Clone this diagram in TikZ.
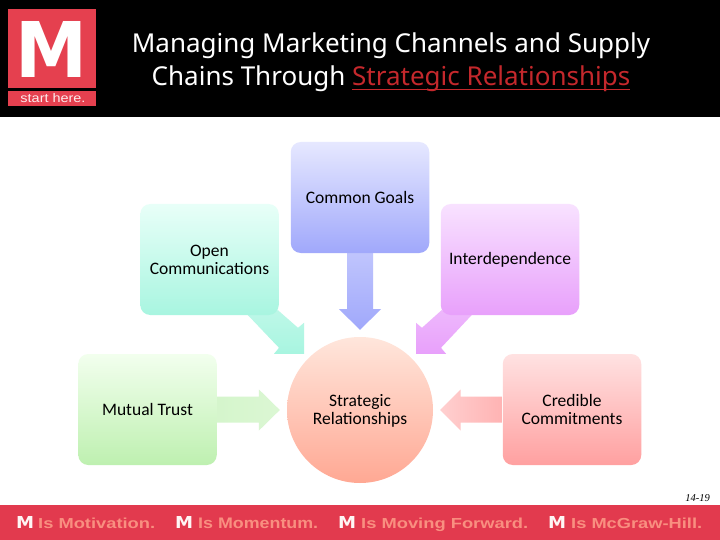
\documentclass[tikz,border=0pt]{standalone}
\usepackage{fontspec}
\usepackage{graphicx}
\setmainfont{Carlito}
\newfontfamily\titlefont{Noto Sans}
\newfontfamily\bandfont{Liberation Sans}
\newfontfamily\heavyfont{DejaVu Sans}
\newfontfamily\numfont{Liberation Serif}
\usetikzlibrary{calc,backgrounds}
\definecolor{bandred}{HTML}{E23A4E}
\definecolor{logored}{HTML}{E5404F}
\definecolor{salmon}{HTML}{F98F80}
\definecolor{titlered}{HTML}{C4282C}
\tikzset{
  x=1pt,y=-1pt,
  box/.style={rectangle,rounded corners=10pt,minimum width=138.5pt,minimum height=111pt,align=center,
    inner sep=0pt,font=\fontsize{17.5}{18}\selectfont,text=black},
  hub/.style={circle,minimum size=146pt,inner sep=0pt,align=center,top color=hubtop,bottom color=hubbot,
    font=\fontsize{17.5}{18}\selectfont},
  blockarrow/.style={draw=none},
  bandM/.style={anchor=base west,inner sep=0pt,text=white!92!salmon},
  bandT/.style={anchor=base west,inner sep=0pt,text=salmon},
}
\definecolor{hubtop}{HTML}{FFE6DC}\definecolor{hubbot}{HTML}{FFA893}
\definecolor{bluetop}{HTML}{E6E8FF}\definecolor{bluebot}{HTML}{A0A8FB}
\definecolor{greentop}{HTML}{E8FFF8}\definecolor{greenbot}{HTML}{A8F5E0}
\definecolor{purtop}{HTML}{F8E2FF}\definecolor{purbot}{HTML}{E8A0FB}
\definecolor{mgtop}{HTML}{F2FFEE}\definecolor{mgbot}{HTML}{BEF0B0}
\definecolor{redtop}{HTML}{FFE2E2}\definecolor{redbot}{HTML}{FFA0A0}
\newcommand{\bandtext}[2]{\resizebox{#1pt}{10.5pt}{\bandfont\bfseries #2}}
\newcommand{\bandem}{\resizebox{18pt}{12pt}{\heavyfont\bfseries M}}
\newsavebox{\ulbox}
\newcommand{\myul}[1]{\sbox{\ulbox}{#1}\rlap{\rule[-5pt]{\wd\ulbox}{1.2pt}}\usebox{\ulbox}}
\begin{document}
\begin{tikzpicture}
\useasboundingbox (0,0) rectangle (720,540);
% header
\fill[black] (0,0) rectangle (720,117);
\fill[logored] (8,9) rectangle (96,88);
\fill[logored] (8,91) rectangle (96,106);
\node[inner sep=0pt,text=white] (logoM) at (51.5,49) {\resizebox{72pt}{56pt}{\heavyfont\bfseries M}};
\node[inner sep=0pt,text=white!90!logored] (logoT) at (53,98.5) {\resizebox{65pt}{9pt}{\bandfont start here.}};
\node[text=white,align=center,inner sep=0pt,font=\titlefont\fontsize{26}{33}\selectfont] (title) at (391,62)
  {Managing Marketing Channels and Supply\\Chains Through \textcolor{titlered}{\myul{Strategic Relationships}}};
% nodes
\node[box,top color=bluetop,bottom color=bluebot] (goals) at (360,197.5) {Common Goals};
\node[box,top color=greentop,bottom color=greenbot] (open) at (209.5,259.5) {Open\\Communications};
\node[box,top color=purtop,bottom color=purbot] (inter) at (510,259.5) {\raisebox{-1pt}{Interdependence}};
\node[box,top color=mgtop,bottom color=mgbot] (trust) at (147.5,409.5) {Mutual Trust};
\node[box,top color=redtop,bottom color=redbot] (cred) at (572,409.5) {Credible\\Commitments};
\node[hub] (hub) at (360,410) {\rule{0pt}{14pt}Strategic\\Relationships};
% connectors
\begin{pgfonlayer}{background}
\fill[white] (0,117) rectangle (720,505);
\path[blockarrow,top color=greenbot!75!white,bottom color=greenbot]
  ($(open.south east)+(-31,0)$) -- ($(open.south east)+(-1,-5)$) -- ($(hub.north)+(-62,-9)$) -- ($(hub.north)+(-56,-14)$)
  -- ($(hub.north)+(-56,17)$) -- ($(hub.north)+(-86,17)$) -- ($(hub.north)+(-81,11)$) -- cycle;
\path[blockarrow,top color=purbot!75!white,bottom color=purbot]
  ($(inter.south west)+(31,0)$) -- ($(inter.south west)+(1,-5)$) -- ($(hub.north)+(62,-9)$) -- ($(hub.north)+(56,-14)$)
  -- ($(hub.north)+(56,17)$) -- ($(hub.north)+(86,17)$) -- ($(hub.north)+(81,11)$) -- cycle;
\path[blockarrow,top color=bluetop!45!bluebot,bottom color=bluebot]
  ($(goals.south)+(-13,0)$) -- ($(goals.south)+(13,0)$) -- ($(goals.south)+(13,56)$) -- ($(goals.south)+(21,56)$)
  -- ($(hub.north)+(0,-7)$) -- ($(goals.south)+(-21,56)$) -- ($(goals.south)+(-13,56)$) -- cycle;
\path[blockarrow,left color=mgbot!65!white,right color=mgbot!55!white]
  ($(trust.east)+(0,-13)$) -- ($(trust.east)+(42,-13)$) -- ($(trust.east)+(42,-20)$)
  -- ($(hub.west)+(-7,0)$) -- ($(trust.east)+(42,21)$) -- ($(trust.east)+(42,13)$) -- ($(trust.east)+(0,13)$) -- cycle;
\path[blockarrow,left color=redbot!50!white,right color=redbot!80!white]
  ($(cred.west)+(0,-13)$) -- ($(cred.west)+(-42,-13)$) -- ($(cred.west)+(-42,-20)$)
  -- ($(hub.east)+(7,0)$) -- ($(cred.west)+(-42,21)$) -- ($(cred.west)+(-42,13)$) -- ($(cred.west)+(0,13)$) -- cycle;
\end{pgfonlayer}
% footer
\node[anchor=base east,inner sep=0pt,font=\numfont\itshape\fontsize{10.5}{12}\selectfont] (pg) at (710,501) {14-19};
\fill[bandred] (0,505) rectangle (720,540);
\node[bandM] (m1) at (16,528.5) {\bandem};
\node[bandT] (t1) at (38,528) {\bandtext{117}{Is Motivation.}};
\node[bandM] (m2) at (175,528.5) {\bandem};
\node[bandT] (t2) at (198,528) {\bandtext{120}{Is Momentum.}};
\node[bandM] (m3) at (338,528.5) {\bandem};
\node[bandT] (t3) at (361,528) {\bandtext{167}{Is Moving Forward.}};
\node[bandM] (m4) at (548,528.5) {\bandem};
\node[bandT] (t4) at (571,528) {\bandtext{131}{Is McGraw-Hill.}};
\end{tikzpicture}
\end{document}
